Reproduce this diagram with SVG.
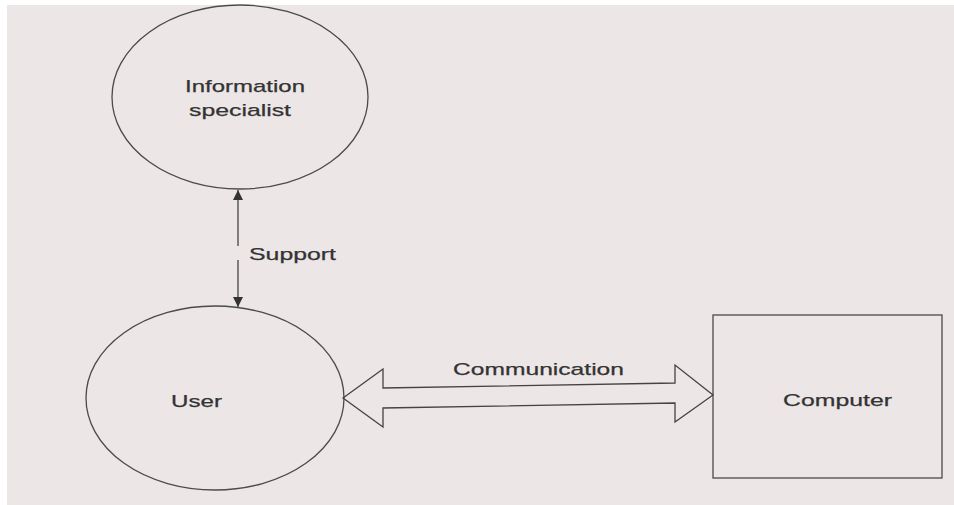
<svg xmlns="http://www.w3.org/2000/svg" width="954" height="505" viewBox="0 0 954 505">
  <style>
    .shape { fill: none; stroke: #4a4a4a; stroke-width: 1.3; }
    .lbl { font-family: "Liberation Sans", Arial, sans-serif; font-size: 17px; fill: #333333; stroke: #333333; stroke-width: 0.25; }
    .conn { fill: none; stroke: #444444; stroke-width: 1.3; }
  </style>
  <defs>
    <marker id="ah" viewBox="0 0 10 10" refX="10" refY="5" markerWidth="10" markerHeight="10" markerUnits="userSpaceOnUse" orient="auto-start-reverse">
      <path d="M0,0 L10,5 L0,10 Z" fill="#333333"/>
    </marker>
  </defs>
  <rect x="0" y="0" width="954" height="505" fill="#ffffff"/>
  <rect x="7" y="5" width="947" height="500" fill="#ece6e6"/>

  <g id="information-specialist">
    <ellipse class="shape" cx="240" cy="97" rx="128" ry="92"/>
    <text class="lbl" x="185" y="92" textLength="120" lengthAdjust="spacingAndGlyphs">Information</text>
    <text class="lbl" x="189" y="116" textLength="102" lengthAdjust="spacingAndGlyphs">specialist</text>
  </g>

  <g id="user">
    <ellipse class="shape" cx="215" cy="398" rx="129" ry="92"/>
    <text class="lbl" x="171" y="407" textLength="51" lengthAdjust="spacingAndGlyphs">User</text>
  </g>

  <g id="computer">
    <rect class="shape" x="713" y="315" width="229" height="163"/>
    <text class="lbl" x="783" y="406" textLength="109" lengthAdjust="spacingAndGlyphs">Computer</text>
  </g>

  <g id="connectors">
    <line class="conn" x1="238" y1="307" x2="238" y2="190" marker-start="url(#ah)" marker-end="url(#ah)"/>
    <rect x="236" y="246" width="5" height="14" fill="#ece6e6"/>
    <text class="lbl" x="249" y="260" textLength="87" lengthAdjust="spacingAndGlyphs">Support</text>
    <polygon class="conn" points="343,398 383,369 383,388 675,383 675,365 713,395 675,422 675,403 383,408 383,427"/>
    <text class="lbl" x="453" y="375" textLength="171" lengthAdjust="spacingAndGlyphs">Communication</text>
  </g>
</svg>
